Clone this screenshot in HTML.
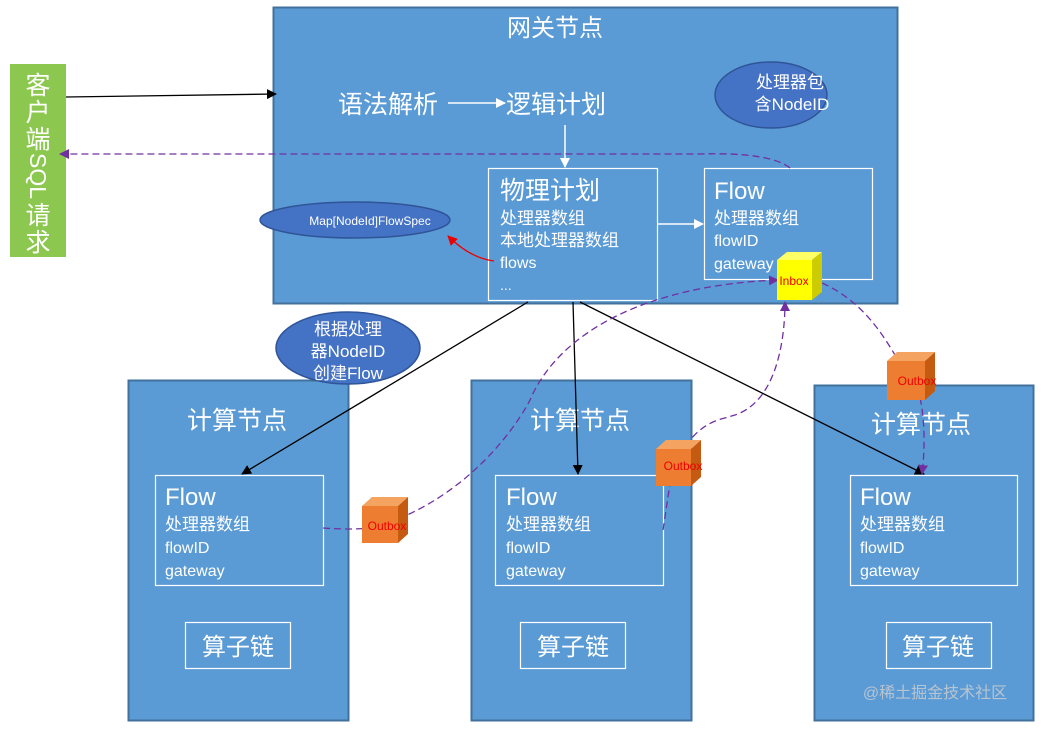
<!DOCTYPE html>
<html><head><meta charset="utf-8"><style>
body{margin:0;background:#fff;width:1046px;height:724px;overflow:hidden}
svg text{font-family:"Liberation Sans","Noto Sans CJK SC",sans-serif;fill:#fff}
</style></head><body>
<svg width="1046" height="724" viewBox="0 0 1046 724" xmlns="http://www.w3.org/2000/svg">
<defs>
<marker id="ab" markerWidth="10" markerHeight="10" refX="9" refY="5" orient="auto" markerUnits="userSpaceOnUse"><path d="M0,0 L10,5 L0,10 z" fill="#000"/></marker>
<marker id="aw" markerWidth="10" markerHeight="10" refX="9" refY="5" orient="auto" markerUnits="userSpaceOnUse"><path d="M0,0 L10,5 L0,10 z" fill="#fff"/></marker>
<marker id="ap" markerWidth="10" markerHeight="10" refX="9" refY="5" orient="auto" markerUnits="userSpaceOnUse"><path d="M0,0 L10,5 L0,10 z" fill="#7030a0"/></marker>
<marker id="ar" markerWidth="10" markerHeight="10" refX="9" refY="5" orient="auto" markerUnits="userSpaceOnUse"><path d="M0,0 L10,5 L0,10 z" fill="#e00"/></marker>
</defs>
<!-- client -->
<rect x="10" y="64" width="56" height="193" fill="#8cc84f"/>
<text x="38" y="94" font-size="25" text-anchor="middle">客</text>
<text x="38" y="121" font-size="25" text-anchor="middle">户</text>
<text x="38" y="148" font-size="25" text-anchor="middle">端</text>
<text x="38" y="153" font-size="23" text-anchor="start" transform="rotate(90 38 153) translate(0,8)">SQL</text>
<text x="38" y="224" font-size="25" text-anchor="middle">请</text>
<text x="38" y="251" font-size="25" text-anchor="middle">求</text>
<!-- gateway -->
<rect x="273.5" y="7.5" width="624" height="296" fill="#5b9bd5" stroke="#41719c" stroke-width="2"/>
<text x="555" y="36" font-size="24" text-anchor="middle">网关节点</text>
<text x="338" y="113" font-size="25">语法解析</text>
<text x="506" y="113" font-size="25">逻辑计划</text>
<line x1="448" y1="103" x2="505" y2="103" stroke="#fff" stroke-width="1.5" marker-end="url(#aw)"/>
<line x1="565" y1="125" x2="565" y2="167" stroke="#fff" stroke-width="1.5" marker-end="url(#aw)"/>
<ellipse cx="771" cy="95" rx="56" ry="33" fill="#4472c4" stroke="#2f5597" stroke-width="1.5"/>
<text x="790" y="88" font-size="17" text-anchor="middle">处理器包</text>
<text x="792" y="110" font-size="17" text-anchor="middle">含NodeID</text>
<ellipse cx="355" cy="220" rx="95" ry="18" fill="#4472c4" stroke="#2f5597" stroke-width="1.5"/>
<text x="370" y="225" font-size="12" text-anchor="middle">Map[NodeId]FlowSpec</text>
<rect x="488.5" y="168.5" width="169" height="132" fill="none" stroke="#fff" stroke-width="1.2"/>
<text x="500" y="199" font-size="25">物理计划</text>
<text x="500" y="224" font-size="17">处理器数组</text>
<text x="500" y="246" font-size="17">本地处理器数组</text>
<text x="500" y="268" font-size="16">flows</text>
<text x="500" y="290" font-size="14">...</text>
<path d="M494,261 Q470,258 448,236" fill="none" stroke="#e00" stroke-width="1.3" marker-end="url(#ar)"/>
<line x1="658" y1="224" x2="703" y2="224" stroke="#fff" stroke-width="1.5" marker-end="url(#aw)"/>
<rect x="704.5" y="168.5" width="168" height="111" fill="none" stroke="#fff" stroke-width="1.2"/>
<text x="714" y="199" font-size="24">Flow</text>
<text x="714" y="224" font-size="17">处理器数组</text>
<text x="714" y="246" font-size="16">flowID</text>
<text x="714" y="269" font-size="16">gateway</text>
<!-- arrows client -->
<line x1="66" y1="97" x2="276" y2="94" stroke="#000" stroke-width="1.3" marker-end="url(#ab)"/>
<path d="M790,168 Q770,152 700,154 L60,154" fill="none" stroke="#7030a0" stroke-width="1.3" stroke-dasharray="7,4" marker-end="url(#ap)"/>
<!-- compute nodes -->
<g>
<rect x="128.5" y="380.5" width="220" height="340" fill="#5b9bd5" stroke="#41719c" stroke-width="2"/>
<text x="237" y="429" font-size="25" text-anchor="middle">计算节点</text>
<rect x="155.5" y="475.5" width="168" height="110" fill="none" stroke="#fff" stroke-width="1.2"/>
<text x="165" y="505" font-size="24">Flow</text><text x="165" y="530" font-size="17">处理器数组</text>
<text x="165" y="553" font-size="16">flowID</text><text x="165" y="576" font-size="16">gateway</text>
<rect x="185.5" y="622.5" width="105" height="46" fill="none" stroke="#fff" stroke-width="1.2"/>
<text x="238" y="655" font-size="24" text-anchor="middle">算子链</text>
</g>
<g>
<rect x="471.5" y="380.5" width="220" height="340" fill="#5b9bd5" stroke="#41719c" stroke-width="2"/>
<text x="580" y="429" font-size="25" text-anchor="middle">计算节点</text>
<rect x="495.5" y="475.5" width="168" height="110" fill="none" stroke="#fff" stroke-width="1.2"/>
<text x="506" y="505" font-size="24">Flow</text><text x="506" y="530" font-size="17">处理器数组</text>
<text x="506" y="553" font-size="16">flowID</text><text x="506" y="576" font-size="16">gateway</text>
<rect x="520.5" y="622.5" width="105" height="46" fill="none" stroke="#fff" stroke-width="1.2"/>
<text x="573" y="655" font-size="24" text-anchor="middle">算子链</text>
</g>
<g>
<rect x="814.5" y="385.5" width="219" height="335" fill="#5b9bd5" stroke="#41719c" stroke-width="2"/>
<text x="921" y="433" font-size="25" text-anchor="middle">计算节点</text>
<rect x="850.5" y="475.5" width="167" height="110" fill="none" stroke="#fff" stroke-width="1.2"/>
<text x="860" y="505" font-size="24">Flow</text><text x="860" y="530" font-size="17">处理器数组</text>
<text x="860" y="553" font-size="16">flowID</text><text x="860" y="576" font-size="16">gateway</text>
<rect x="886.5" y="622.5" width="105" height="46" fill="none" stroke="#fff" stroke-width="1.2"/>
<text x="938" y="655" font-size="24" text-anchor="middle">算子链</text>
</g>
<ellipse cx="348" cy="348" rx="72" ry="36" fill="#4472c4" stroke="#2f5597" stroke-width="1.5"/>
<text x="348" y="335" font-size="17" text-anchor="middle">根据处理</text>
<text x="348" y="357" font-size="17" text-anchor="middle">器NodeID</text>
<text x="348" y="379" font-size="17" text-anchor="middle">创建Flow</text>
<!-- black arrows -->
<line x1="528" y1="302" x2="242" y2="474" stroke="#000" stroke-width="1.3" marker-end="url(#ab)"/>
<line x1="573" y1="302" x2="578" y2="474" stroke="#000" stroke-width="1.3" marker-end="url(#ab)"/>
<line x1="580" y1="302" x2="924" y2="474" stroke="#000" stroke-width="1.3" marker-end="url(#ab)"/>
<!-- purple dashed -->
<path d="M323,528 Q350,530 372,528 C470,500 520,420 530,400 C560,330 650,285 778,280" fill="none" stroke="#7030a0" stroke-width="1.3" stroke-dasharray="7,4" marker-end="url(#ap)"/>
<path d="M663,530 C668,500 670,470 680,455 C700,420 720,420 735,415 C780,400 785,330 785,302" fill="none" stroke="#7030a0" stroke-width="1.3" stroke-dasharray="7,4" marker-end="url(#ap)"/>
<path d="M822,283 C860,300 880,330 895,355" fill="none" stroke="#7030a0" stroke-width="1.3" stroke-dasharray="7,4"/>
<path d="M920,398 C925,420 925,450 922,474" fill="none" stroke="#7030a0" stroke-width="1.3" stroke-dasharray="7,4" marker-end="url(#ap)"/>
<!-- cubes -->
<g><polygon points="777,260 787,252 822,252 812,260" fill="#ffff66"/><polygon points="812,260 822,252 822,292 812,300" fill="#cccc00"/><rect x="777" y="260" width="35" height="40" fill="#ffff00"/><text x="794" y="285" font-size="12" text-anchor="middle" style="fill:#e00">Inbox</text></g>
<g><polygon points="362,506 372,497 408,497 398,506" fill="#f4a460"/><polygon points="398,506 408,497 408,534 398,543" fill="#c55a11"/><rect x="362" y="506" width="36" height="37" fill="#ed7d31"/><text x="387" y="530" font-size="12" text-anchor="middle" style="fill:#e00">Outbox</text></g>
<g><polygon points="656,449 666,440 701,440 691,449" fill="#f4a460"/><polygon points="691,449 701,440 701,477 691,486" fill="#c55a11"/><rect x="656" y="449" width="35" height="37" fill="#ed7d31"/><text x="683" y="470" font-size="12" text-anchor="middle" style="fill:#e00">Outbox</text></g>
<g><polygon points="887,361 897,352 935,352 925,361" fill="#f4a460"/><polygon points="925,361 935,352 935,391 925,400" fill="#c55a11"/><rect x="887" y="361" width="38" height="39" fill="#ed7d31"/><text x="917" y="385" font-size="12" text-anchor="middle" style="fill:#e00">Outbox</text></g>
<text x="935" y="698" font-size="16" text-anchor="middle" style="fill:#b8c4d0">@稀土掘金技术社区</text>
</svg>
</body></html>
